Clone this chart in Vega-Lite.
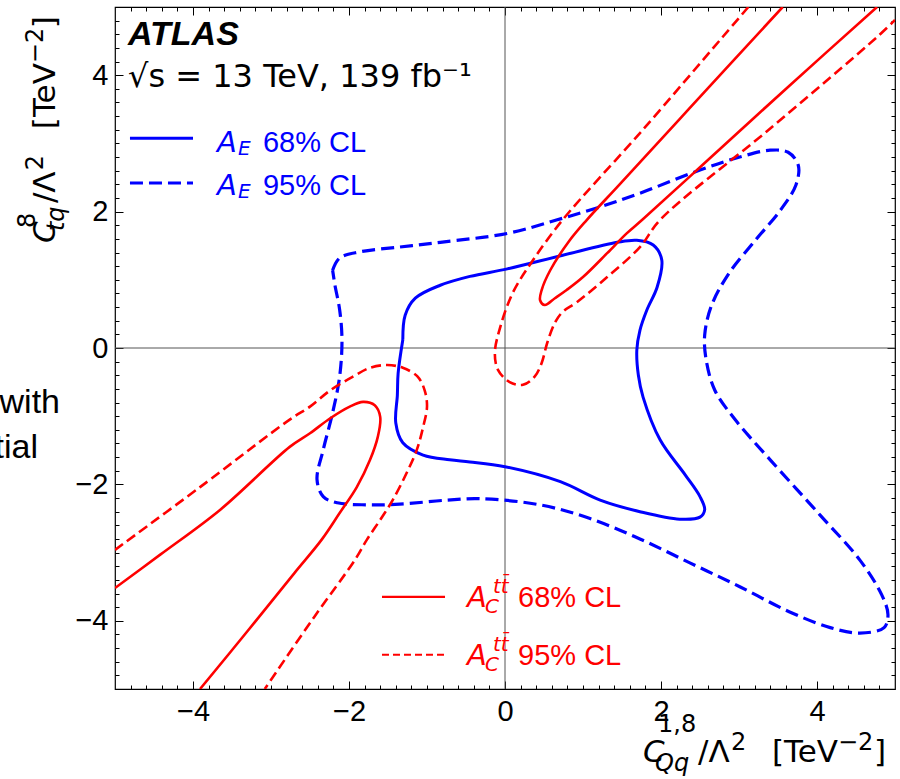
{
  "$schema": "https://vega.github.io/schema/vega-lite/v6.json",
  "width": 780,
  "height": 682,
  "autosize": {"type": "none"},
  "padding": {"left": 115, "top": 7, "right": 5, "bottom": 90},
  "background": "white",
  "config": {"view": {"stroke": "black", "strokeWidth": 1.2}},
  "resolve": {"axis": {"x": "independent", "y": "independent"}},
  "datasets": {
    "cross": [{"v": 0}],
    "contours": [
      {"c": "AE68", "s": 1, "i": 1, "x": -1.31, "y": 0.12},
      {"c": "AE68", "s": 1, "i": 2, "x": -1.28, "y": 0.48},
      {"c": "AE68", "s": 1, "i": 3, "x": -1.15, "y": 0.73},
      {"c": "AE68", "s": 1, "i": 4, "x": -0.83, "y": 0.92},
      {"c": "AE68", "s": 1, "i": 5, "x": -0.45, "y": 1.05},
      {"c": "AE68", "s": 1, "i": 6, "x": 0.03, "y": 1.16},
      {"c": "AE68", "s": 1, "i": 7, "x": 0.74, "y": 1.36},
      {"c": "AE68", "s": 1, "i": 8, "x": 1.44, "y": 1.55},
      {"c": "AE68", "s": 1, "i": 9, "x": 1.69, "y": 1.58},
      {"c": "AE68", "s": 1, "i": 10, "x": 1.9, "y": 1.51},
      {"c": "AE68", "s": 1, "i": 11, "x": 2.01, "y": 1.29},
      {"c": "AE68", "s": 1, "i": 12, "x": 1.95, "y": 0.89},
      {"c": "AE68", "s": 1, "i": 13, "x": 1.82, "y": 0.56},
      {"c": "AE68", "s": 1, "i": 14, "x": 1.73, "y": 0.26},
      {"c": "AE68", "s": 1, "i": 15, "x": 1.69, "y": -0.03},
      {"c": "AE68", "s": 1, "i": 16, "x": 1.71, "y": -0.4},
      {"c": "AE68", "s": 1, "i": 17, "x": 1.77, "y": -0.72},
      {"c": "AE68", "s": 1, "i": 18, "x": 1.99, "y": -1.35},
      {"c": "AE68", "s": 1, "i": 19, "x": 2.31, "y": -1.86},
      {"c": "AE68", "s": 1, "i": 20, "x": 2.5, "y": -2.18},
      {"c": "AE68", "s": 1, "i": 21, "x": 2.56, "y": -2.37},
      {"c": "AE68", "s": 1, "i": 22, "x": 2.5, "y": -2.48},
      {"c": "AE68", "s": 1, "i": 23, "x": 2.24, "y": -2.51},
      {"c": "AE68", "s": 1, "i": 24, "x": 1.73, "y": -2.4},
      {"c": "AE68", "s": 1, "i": 25, "x": 1.22, "y": -2.23},
      {"c": "AE68", "s": 1, "i": 26, "x": 0.71, "y": -1.96},
      {"c": "AE68", "s": 1, "i": 27, "x": 0.0, "y": -1.74},
      {"c": "AE68", "s": 1, "i": 28, "x": -0.45, "y": -1.67},
      {"c": "AE68", "s": 1, "i": 29, "x": -0.71, "y": -1.64},
      {"c": "AE68", "s": 1, "i": 30, "x": -1.05, "y": -1.57},
      {"c": "AE68", "s": 1, "i": 31, "x": -1.31, "y": -1.39},
      {"c": "AE68", "s": 1, "i": 32, "x": -1.4, "y": -1.1},
      {"c": "AE68", "s": 1, "i": 33, "x": -1.38, "y": -0.69},
      {"c": "AE68", "s": 1, "i": 34, "x": -1.37, "y": -0.37},
      {"c": "AE68", "s": 1, "i": 35, "x": -1.31, "y": 0.12},

      {"c": "AE95", "s": 1, "i": 1, "x": -2.21, "y": 1.14},
      {"c": "AE95", "s": 1, "i": 2, "x": -2.12, "y": 1.32},
      {"c": "AE95", "s": 1, "i": 3, "x": -1.86, "y": 1.41},
      {"c": "AE95", "s": 1, "i": 4, "x": -1.35, "y": 1.48},
      {"c": "AE95", "s": 1, "i": 5, "x": -0.83, "y": 1.55},
      {"c": "AE95", "s": 1, "i": 6, "x": 0.03, "y": 1.68},
      {"c": "AE95", "s": 1, "i": 7, "x": 0.67, "y": 1.88},
      {"c": "AE95", "s": 1, "i": 8, "x": 1.22, "y": 2.07},
      {"c": "AE95", "s": 1, "i": 9, "x": 1.73, "y": 2.27},
      {"c": "AE95", "s": 1, "i": 10, "x": 2.5, "y": 2.61},
      {"c": "AE95", "s": 1, "i": 11, "x": 3.01, "y": 2.8},
      {"c": "AE95", "s": 1, "i": 12, "x": 3.4, "y": 2.9},
      {"c": "AE95", "s": 1, "i": 13, "x": 3.63, "y": 2.87},
      {"c": "AE95", "s": 1, "i": 14, "x": 3.76, "y": 2.68},
      {"c": "AE95", "s": 1, "i": 15, "x": 3.73, "y": 2.39},
      {"c": "AE95", "s": 1, "i": 16, "x": 3.53, "y": 2.02},
      {"c": "AE95", "s": 1, "i": 17, "x": 3.21, "y": 1.58},
      {"c": "AE95", "s": 1, "i": 18, "x": 2.88, "y": 1.11},
      {"c": "AE95", "s": 1, "i": 19, "x": 2.65, "y": 0.63},
      {"c": "AE95", "s": 1, "i": 20, "x": 2.56, "y": 0.19},
      {"c": "AE95", "s": 1, "i": 21, "x": 2.58, "y": -0.18},
      {"c": "AE95", "s": 1, "i": 22, "x": 2.69, "y": -0.62},
      {"c": "AE95", "s": 1, "i": 23, "x": 2.95, "y": -1.05},
      {"c": "AE95", "s": 1, "i": 24, "x": 3.4, "y": -1.64},
      {"c": "AE95", "s": 1, "i": 25, "x": 4.04, "y": -2.45},
      {"c": "AE95", "s": 1, "i": 26, "x": 4.55, "y": -3.11},
      {"c": "AE95", "s": 1, "i": 27, "x": 4.83, "y": -3.62},
      {"c": "AE95", "s": 1, "i": 28, "x": 4.91, "y": -3.91},
      {"c": "AE95", "s": 1, "i": 29, "x": 4.86, "y": -4.1},
      {"c": "AE95", "s": 1, "i": 30, "x": 4.55, "y": -4.18},
      {"c": "AE95", "s": 1, "i": 31, "x": 4.17, "y": -4.1},
      {"c": "AE95", "s": 1, "i": 32, "x": 3.65, "y": -3.87},
      {"c": "AE95", "s": 1, "i": 33, "x": 3.01, "y": -3.5},
      {"c": "AE95", "s": 1, "i": 34, "x": 2.37, "y": -3.15},
      {"c": "AE95", "s": 1, "i": 35, "x": 1.73, "y": -2.8},
      {"c": "AE95", "s": 1, "i": 36, "x": 1.09, "y": -2.5},
      {"c": "AE95", "s": 1, "i": 37, "x": 0.45, "y": -2.3},
      {"c": "AE95", "s": 1, "i": 38, "x": -0.32, "y": -2.21},
      {"c": "AE95", "s": 1, "i": 39, "x": -0.74, "y": -2.23},
      {"c": "AE95", "s": 1, "i": 40, "x": -1.35, "y": -2.29},
      {"c": "AE95", "s": 1, "i": 41, "x": -1.77, "y": -2.3},
      {"c": "AE95", "s": 1, "i": 42, "x": -2.15, "y": -2.27},
      {"c": "AE95", "s": 1, "i": 43, "x": -2.33, "y": -2.18},
      {"c": "AE95", "s": 1, "i": 44, "x": -2.41, "y": -1.93},
      {"c": "AE95", "s": 1, "i": 45, "x": -2.33, "y": -1.49},
      {"c": "AE95", "s": 1, "i": 46, "x": -2.21, "y": -0.95},
      {"c": "AE95", "s": 1, "i": 47, "x": -2.12, "y": -0.42},
      {"c": "AE95", "s": 1, "i": 48, "x": -2.09, "y": 0.12},
      {"c": "AE95", "s": 1, "i": 49, "x": -2.12, "y": 0.56},
      {"c": "AE95", "s": 1, "i": 50, "x": -2.18, "y": 0.92},
      {"c": "AE95", "s": 1, "i": 51, "x": -2.21, "y": 1.14},

      {"c": "AC68", "s": 1, "i": 1, "x": 3.56, "y": 5.0},
      {"c": "AC68", "s": 1, "i": 2, "x": 2.37, "y": 3.52},
      {"c": "AC68", "s": 1, "i": 3, "x": 1.47, "y": 2.4},
      {"c": "AC68", "s": 1, "i": 4, "x": 1.05, "y": 1.88},
      {"c": "AC68", "s": 1, "i": 5, "x": 0.83, "y": 1.58},
      {"c": "AC68", "s": 1, "i": 6, "x": 0.58, "y": 1.14},
      {"c": "AC68", "s": 1, "i": 7, "x": 0.47, "y": 0.85},
      {"c": "AC68", "s": 1, "i": 8, "x": 0.45, "y": 0.7},
      {"c": "AC68", "s": 1, "i": 9, "x": 0.51, "y": 0.63},
      {"c": "AC68", "s": 1, "i": 10, "x": 0.64, "y": 0.73},
      {"c": "AC68", "s": 1, "i": 11, "x": 0.79, "y": 0.85},
      {"c": "AC68", "s": 1, "i": 12, "x": 1.0, "y": 1.04},
      {"c": "AC68", "s": 1, "i": 13, "x": 1.31, "y": 1.39},
      {"c": "AC68", "s": 1, "i": 14, "x": 1.56, "y": 1.68},
      {"c": "AC68", "s": 1, "i": 15, "x": 1.76, "y": 1.88},
      {"c": "AC68", "s": 1, "i": 16, "x": 2.5, "y": 2.65},
      {"c": "AC68", "s": 1, "i": 17, "x": 3.65, "y": 3.85},
      {"c": "AC68", "s": 1, "i": 18, "x": 4.77, "y": 5.0},
      {"c": "AC68", "s": 2, "i": 1, "x": -5.0, "y": -3.52},
      {"c": "AC68", "s": 2, "i": 2, "x": -4.42, "y": -3.03},
      {"c": "AC68", "s": 2, "i": 3, "x": -3.65, "y": -2.37},
      {"c": "AC68", "s": 2, "i": 4, "x": -2.76, "y": -1.45},
      {"c": "AC68", "s": 2, "i": 5, "x": -2.5, "y": -1.25},
      {"c": "AC68", "s": 2, "i": 6, "x": -2.24, "y": -1.03},
      {"c": "AC68", "s": 2, "i": 7, "x": -1.99, "y": -0.86},
      {"c": "AC68", "s": 2, "i": 8, "x": -1.82, "y": -0.79},
      {"c": "AC68", "s": 2, "i": 9, "x": -1.67, "y": -0.84},
      {"c": "AC68", "s": 2, "i": 10, "x": -1.6, "y": -1.01},
      {"c": "AC68", "s": 2, "i": 11, "x": -1.63, "y": -1.3},
      {"c": "AC68", "s": 2, "i": 12, "x": -1.73, "y": -1.64},
      {"c": "AC68", "s": 2, "i": 13, "x": -1.9, "y": -2.04},
      {"c": "AC68", "s": 2, "i": 14, "x": -2.12, "y": -2.42},
      {"c": "AC68", "s": 2, "i": 15, "x": -2.35, "y": -2.81},
      {"c": "AC68", "s": 2, "i": 16, "x": -2.7, "y": -3.3},
      {"c": "AC68", "s": 2, "i": 17, "x": -3.3, "y": -4.15},
      {"c": "AC68", "s": 2, "i": 18, "x": -3.91, "y": -5.0},

      {"c": "AC95", "s": 1, "i": 1, "x": 3.12, "y": 5.0},
      {"c": "AC95", "s": 1, "i": 2, "x": 2.79, "y": 4.56},
      {"c": "AC95", "s": 1, "i": 3, "x": 1.76, "y": 3.19},
      {"c": "AC95", "s": 1, "i": 4, "x": 0.74, "y": 1.88},
      {"c": "AC95", "s": 1, "i": 5, "x": 0.36, "y": 1.29},
      {"c": "AC95", "s": 1, "i": 6, "x": 0.1, "y": 0.81},
      {"c": "AC95", "s": 1, "i": 7, "x": -0.06, "y": 0.31},
      {"c": "AC95", "s": 1, "i": 8, "x": -0.13, "y": -0.07},
      {"c": "AC95", "s": 1, "i": 9, "x": -0.09, "y": -0.32},
      {"c": "AC95", "s": 1, "i": 10, "x": 0.06, "y": -0.5},
      {"c": "AC95", "s": 1, "i": 11, "x": 0.23, "y": -0.54},
      {"c": "AC95", "s": 1, "i": 12, "x": 0.38, "y": -0.42},
      {"c": "AC95", "s": 1, "i": 13, "x": 0.47, "y": -0.22},
      {"c": "AC95", "s": 1, "i": 14, "x": 0.54, "y": 0.07},
      {"c": "AC95", "s": 1, "i": 15, "x": 0.64, "y": 0.37},
      {"c": "AC95", "s": 1, "i": 16, "x": 0.74, "y": 0.53},
      {"c": "AC95", "s": 1, "i": 17, "x": 0.92, "y": 0.67},
      {"c": "AC95", "s": 1, "i": 18, "x": 1.31, "y": 1.04},
      {"c": "AC95", "s": 1, "i": 19, "x": 1.73, "y": 1.48},
      {"c": "AC95", "s": 1, "i": 20, "x": 1.99, "y": 1.88},
      {"c": "AC95", "s": 1, "i": 21, "x": 3.37, "y": 3.19},
      {"c": "AC95", "s": 1, "i": 22, "x": 4.77, "y": 4.56},
      {"c": "AC95", "s": 1, "i": 23, "x": 5.0, "y": 4.81},
      {"c": "AC95", "s": 2, "i": 1, "x": -5.0, "y": -2.96},
      {"c": "AC95", "s": 2, "i": 2, "x": -3.91, "y": -2.04},
      {"c": "AC95", "s": 2, "i": 3, "x": -2.76, "y": -1.05},
      {"c": "AC95", "s": 2, "i": 4, "x": -2.5, "y": -0.86},
      {"c": "AC95", "s": 2, "i": 5, "x": -2.24, "y": -0.62},
      {"c": "AC95", "s": 2, "i": 6, "x": -1.95, "y": -0.42},
      {"c": "AC95", "s": 2, "i": 7, "x": -1.73, "y": -0.29},
      {"c": "AC95", "s": 2, "i": 8, "x": -1.51, "y": -0.25},
      {"c": "AC95", "s": 2, "i": 9, "x": -1.31, "y": -0.29},
      {"c": "AC95", "s": 2, "i": 10, "x": -1.12, "y": -0.42},
      {"c": "AC95", "s": 2, "i": 11, "x": -1.03, "y": -0.62},
      {"c": "AC95", "s": 2, "i": 12, "x": -1.0, "y": -0.86},
      {"c": "AC95", "s": 2, "i": 13, "x": -1.05, "y": -1.16},
      {"c": "AC95", "s": 2, "i": 14, "x": -1.13, "y": -1.49},
      {"c": "AC95", "s": 2, "i": 15, "x": -1.26, "y": -1.83},
      {"c": "AC95", "s": 2, "i": 16, "x": -1.44, "y": -2.23},
      {"c": "AC95", "s": 2, "i": 17, "x": -1.6, "y": -2.52},
      {"c": "AC95", "s": 2, "i": 18, "x": -1.77, "y": -2.81},
      {"c": "AC95", "s": 2, "i": 19, "x": -1.92, "y": -3.1},
      {"c": "AC95", "s": 2, "i": 20, "x": -2.45, "y": -3.95},
      {"c": "AC95", "s": 2, "i": 21, "x": -3.08, "y": -5.0}
    ],
    "keys": [
      {"g": "AE", "cl": "68", "x": -4.808, "x2": -4.0, "y": 3.077},
      {"g": "AE", "cl": "95", "x": -4.808, "x2": -4.0, "y": 2.418},
      {"g": "AC", "cl": "68", "x": -1.577, "x2": -0.769, "y": -3.648},
      {"g": "AC", "cl": "95", "x": -1.577, "x2": -0.769, "y": -4.498}
    ],
    "texts": [
      {"k": "atlas", "g": "none", "t": "ATLAS", "x": -4.833, "y": 4.44},
      {"k": "energy", "g": "none", "t": "√s = 13 TeV, 139 fb⁻¹", "x": -4.833, "y": 3.824},
      {"k": "mathA", "g": "AE", "t": "A", "x": -3.692, "y": 2.872},
      {"k": "sub", "g": "AE", "t": "E", "x": -3.423, "y": 2.828},
      {"k": "cl", "g": "AE", "t": "68% CL", "x": -3.103, "y": 2.872},
      {"k": "mathA", "g": "AE", "t": "A", "x": -3.692, "y": 2.242},
      {"k": "sub", "g": "AE", "t": "E", "x": -3.423, "y": 2.198},
      {"k": "cl", "g": "AE", "t": "95% CL", "x": -3.103, "y": 2.242},
      {"k": "mathA", "g": "AC", "t": "A", "x": -0.487, "y": -3.795},
      {"k": "sub", "g": "AC", "t": "tt̄", "x": -0.154, "y": -3.59},
      {"k": "sub", "g": "AC", "t": "C", "x": -0.256, "y": -3.883},
      {"k": "cl", "g": "AC", "t": "68% CL", "x": 0.167, "y": -3.795},
      {"k": "mathA", "g": "AC", "t": "A", "x": -0.487, "y": -4.645},
      {"k": "sub", "g": "AC", "t": "tt̄", "x": -0.154, "y": -4.44},
      {"k": "sub", "g": "AC", "t": "C", "x": -0.256, "y": -4.733},
      {"k": "cl", "g": "AC", "t": "95% CL", "x": 0.167, "y": -4.645},
      {"k": "side", "g": "none", "t": "with", "x": -5.705, "y": -0.952},
      {"k": "side", "g": "none", "t": "tial", "x": -5.987, "y": -1.612},
      {"k": "xtI", "g": "none", "t": "C", "x": 1.769, "y": -6.066},
      {"k": "xtS", "g": "none", "t": "1,8", "x": 1.962, "y": -5.626},
      {"k": "xtSI", "g": "none", "t": "Qq", "x": 1.923, "y": -6.198},
      {"k": "xtR", "g": "none", "t": "/Λ", "x": 2.474, "y": -6.066},
      {"k": "xtS", "g": "none", "t": "2", "x": 2.897, "y": -5.89},
      {"k": "xtR", "g": "none", "t": "[TeV", "x": 3.423, "y": -6.066},
      {"k": "xtS", "g": "none", "t": "−2", "x": 4.269, "y": -5.89},
      {"k": "xtR", "g": "none", "t": "]", "x": 4.731, "y": -6.066},
      {"k": "ytI", "g": "none", "t": "C", "x": -5.769, "y": 1.538},
      {"k": "ytS", "g": "none", "t": "8", "x": -6.026, "y": 1.758},
      {"k": "ytSI", "g": "none", "t": "tq", "x": -5.654, "y": 1.714},
      {"k": "ytR", "g": "none", "t": "/Λ", "x": -5.769, "y": 2.125},
      {"k": "ytS", "g": "none", "t": "2", "x": -5.923, "y": 2.608},
      {"k": "ytR", "g": "none", "t": "[TeV", "x": -5.769, "y": 3.209},
      {"k": "ytS", "g": "none", "t": "−2", "x": -5.923, "y": 4.176},
      {"k": "ytR", "g": "none", "t": "]", "x": -5.769, "y": 4.689}
    ]
  },
  "layer": [
    {
      "data": {"name": "cross"},
      "mark": {"type": "rule", "color": "#555555", "strokeWidth": 1},
      "encoding": {
        "x": {"field": "v", "type": "quantitative", "scale": {"domain": [-5, 5], "nice": false, "zero": false},
          "axis": {"orient": "top", "values": [-4.8,-4.6,-4.4,-4.2,-3.8,-3.6,-3.4,-3.2,-3,-2.8,-2.6,-2.4,-2.2,-1.8,-1.6,-1.4,-1.2,-1,-0.8,-0.6,-0.4,-0.2,0.2,0.4,0.6,0.8,1,1.2,1.4,1.6,1.8,2.2,2.4,2.6,2.8,3,3.2,3.4,3.6,3.8,4.2,4.4,4.6,4.8], "ticks": true, "tickSize": -4, "tickColor": "black", "tickWidth": 1, "labels": false, "domain": false, "grid": false, "title": null}}
      }
    },
    {
      "data": {"name": "cross"},
      "mark": {"type": "rule", "color": "#555555", "strokeWidth": 1},
      "encoding": {
        "y": {"field": "v", "type": "quantitative", "scale": {"domain": [-5, 5], "nice": false, "zero": false},
          "axis": {"orient": "right", "values": [-4.8,-4.6,-4.4,-4.2,-3.8,-3.6,-3.4,-3.2,-3,-2.8,-2.6,-2.4,-2.2,-1.8,-1.6,-1.4,-1.2,-1,-0.8,-0.6,-0.4,-0.2,0.2,0.4,0.6,0.8,1,1.2,1.4,1.6,1.8,2.2,2.4,2.6,2.8,3,3.2,3.4,3.6,3.8,4.2,4.4,4.6,4.8], "ticks": true, "tickSize": -4, "tickColor": "black", "tickWidth": 1, "labels": false, "domain": false, "grid": false, "title": null}}
      }
    },
    {
      "data": {"name": "contours"},
      "transform": [{"filter": "datum.c === 'AE68'"}],
      "mark": {"type": "line", "color": "#0000ff", "strokeWidth": 3, "interpolate": "catmull-rom", "clip": true},
      "encoding": {
        "x": {"field": "x", "type": "quantitative", "scale": {"domain": [-5, 5], "nice": false, "zero": false},
          "axis": {"orient": "bottom", "values": [-4, -2, 0, 2, 4], "ticks": false, "labelFont": "Liberation Sans", "labelFontSize": 29, "labelColor": "black", "labelPadding": 8, "labelFlush": false, "domain": false, "grid": false, "title": null}},
        "y": {"field": "y", "type": "quantitative", "scale": {"domain": [-5, 5], "nice": false, "zero": false},
          "axis": {"orient": "left", "values": [-4, -2, 0, 2, 4], "ticks": false, "labelFont": "Liberation Sans", "labelFontSize": 29, "labelColor": "black", "labelPadding": 7, "labelFlush": false, "domain": false, "grid": false, "title": null}},
        "detail": {"field": "s", "type": "nominal"},
        "order": {"field": "i", "type": "quantitative"}
      }
    },
    {
      "data": {"name": "contours"},
      "transform": [{"filter": "datum.c === 'AE95'"}],
      "mark": {"type": "line", "color": "#0000ff", "strokeWidth": 3.2, "strokeDash": [13, 6], "interpolate": "catmull-rom", "clip": true},
      "encoding": {
        "x": {"field": "x", "type": "quantitative", "scale": {"domain": [-5, 5], "nice": false, "zero": false},
          "axis": {"orient": "bottom", "values": [-4, -2, 0, 2, 4], "ticks": true, "tickSize": -8, "tickColor": "black", "tickWidth": 1, "labels": false, "domain": false, "grid": false, "title": null}},
        "y": {"field": "y", "type": "quantitative", "scale": {"domain": [-5, 5], "nice": false, "zero": false},
          "axis": {"orient": "left", "values": [-4, -2, 0, 2, 4], "ticks": true, "tickSize": -8, "tickColor": "black", "tickWidth": 1, "labels": false, "domain": false, "grid": false, "title": null}},
        "detail": {"field": "s", "type": "nominal"},
        "order": {"field": "i", "type": "quantitative"}
      }
    },
    {
      "data": {"name": "contours"},
      "transform": [{"filter": "datum.c === 'AC68'"}],
      "mark": {"type": "line", "color": "#ff0000", "strokeWidth": 2.6, "interpolate": "catmull-rom", "clip": true},
      "encoding": {
        "x": {"field": "x", "type": "quantitative", "scale": {"domain": [-5, 5], "nice": false, "zero": false},
          "axis": {"orient": "bottom", "values": [-4.8,-4.6,-4.4,-4.2,-3.8,-3.6,-3.4,-3.2,-3,-2.8,-2.6,-2.4,-2.2,-1.8,-1.6,-1.4,-1.2,-1,-0.8,-0.6,-0.4,-0.2,0.2,0.4,0.6,0.8,1,1.2,1.4,1.6,1.8,2.2,2.4,2.6,2.8,3,3.2,3.4,3.6,3.8,4.2,4.4,4.6,4.8], "ticks": true, "tickSize": -4, "tickColor": "black", "tickWidth": 1, "labels": false, "domain": false, "grid": false, "title": null}},
        "y": {"field": "y", "type": "quantitative", "scale": {"domain": [-5, 5], "nice": false, "zero": false},
          "axis": {"orient": "left", "values": [-4.8,-4.6,-4.4,-4.2,-3.8,-3.6,-3.4,-3.2,-3,-2.8,-2.6,-2.4,-2.2,-1.8,-1.6,-1.4,-1.2,-1,-0.8,-0.6,-0.4,-0.2,0.2,0.4,0.6,0.8,1,1.2,1.4,1.6,1.8,2.2,2.4,2.6,2.8,3,3.2,3.4,3.6,3.8,4.2,4.4,4.6,4.8], "ticks": true, "tickSize": -4, "tickColor": "black", "tickWidth": 1, "labels": false, "domain": false, "grid": false, "title": null}},
        "detail": {"field": "s", "type": "nominal"},
        "order": {"field": "i", "type": "quantitative"}
      }
    },
    {
      "data": {"name": "contours"},
      "transform": [{"filter": "datum.c === 'AC95'"}],
      "mark": {"type": "line", "color": "#ff0000", "strokeWidth": 2.6, "strokeDash": [10, 5], "interpolate": "catmull-rom", "clip": true},
      "encoding": {
        "x": {"field": "x", "type": "quantitative", "scale": {"domain": [-5, 5], "nice": false, "zero": false},
          "axis": {"orient": "top", "values": [-4, -2, 0, 2, 4], "ticks": true, "tickSize": -8, "tickColor": "black", "tickWidth": 1, "labels": false, "domain": false, "grid": false, "title": null}},
        "y": {"field": "y", "type": "quantitative", "scale": {"domain": [-5, 5], "nice": false, "zero": false},
          "axis": {"orient": "right", "values": [-4, -2, 0, 2, 4], "ticks": true, "tickSize": -8, "tickColor": "black", "tickWidth": 1, "labels": false, "domain": false, "grid": false, "title": null}},
        "detail": {"field": "s", "type": "nominal"},
        "order": {"field": "i", "type": "quantitative"}
      }
    },
    {
      "data": {"name": "keys"},
      "transform": [{"filter": "datum.g === 'AE' && datum.cl === '68'"}],
      "mark": {"type": "rule", "color": "#0000ff", "strokeWidth": 3},
      "encoding": {
        "x": {"field": "x", "type": "quantitative", "axis": null},
        "x2": {"field": "x2"},
        "y": {"field": "y", "type": "quantitative", "axis": null}
      }
    },
    {
      "data": {"name": "keys"},
      "transform": [{"filter": "datum.g === 'AE' && datum.cl === '95'"}],
      "mark": {"type": "rule", "color": "#0000ff", "strokeWidth": 3, "strokeDash": [13, 6]},
      "encoding": {
        "x": {"field": "x", "type": "quantitative", "axis": null},
        "x2": {"field": "x2"},
        "y": {"field": "y", "type": "quantitative", "axis": null}
      }
    },
    {
      "data": {"name": "keys"},
      "transform": [{"filter": "datum.g === 'AC' && datum.cl === '68'"}],
      "mark": {"type": "rule", "color": "#ff0000", "strokeWidth": 2.2},
      "encoding": {
        "x": {"field": "x", "type": "quantitative", "axis": null},
        "x2": {"field": "x2"},
        "y": {"field": "y", "type": "quantitative", "axis": null}
      }
    },
    {
      "data": {"name": "keys"},
      "transform": [{"filter": "datum.g === 'AC' && datum.cl === '95'"}],
      "mark": {"type": "rule", "color": "#ff0000", "strokeWidth": 2.2, "strokeDash": [7, 4]},
      "encoding": {
        "x": {"field": "x", "type": "quantitative", "axis": null},
        "x2": {"field": "x2"},
        "y": {"field": "y", "type": "quantitative", "axis": null}
      }
    },
    {
      "data": {"name": "texts"},
      "transform": [{"filter": "datum.k === 'atlas'"}],
      "mark": {"type": "text", "font": "Liberation Sans", "fontSize": 34, "fontWeight": "bold", "fontStyle": "italic", "align": "left", "baseline": "alphabetic", "color": "black"},
      "encoding": {"x": {"field": "x", "type": "quantitative", "axis": null}, "y": {"field": "y", "type": "quantitative", "axis": null}, "text": {"field": "t"}}
    },
    {
      "data": {"name": "texts"},
      "transform": [{"filter": "datum.k === 'energy'"}],
      "mark": {"type": "text", "font": "DejaVu Sans", "fontSize": 32, "align": "left", "baseline": "alphabetic", "color": "black"},
      "encoding": {"x": {"field": "x", "type": "quantitative", "axis": null}, "y": {"field": "y", "type": "quantitative", "axis": null}, "text": {"field": "t"}}
    },
    {
      "data": {"name": "texts"},
      "transform": [{"filter": "datum.k === 'mathA'"}],
      "mark": {"type": "text", "font": "DejaVu Sans", "fontSize": 29, "fontStyle": "italic", "align": "left", "baseline": "alphabetic"},
      "encoding": {"x": {"field": "x", "type": "quantitative", "axis": null}, "y": {"field": "y", "type": "quantitative", "axis": null}, "text": {"field": "t"},
        "color": {"field": "g", "type": "nominal", "scale": {"domain": ["AE", "AC", "none"], "range": ["#0000ff", "#ff0000", "#000000"]}, "legend": null}}
    },
    {
      "data": {"name": "texts"},
      "transform": [{"filter": "datum.k === 'sub'"}],
      "mark": {"type": "text", "font": "DejaVu Sans", "fontSize": 20, "fontStyle": "italic", "align": "left", "baseline": "alphabetic"},
      "encoding": {"x": {"field": "x", "type": "quantitative", "axis": null}, "y": {"field": "y", "type": "quantitative", "axis": null}, "text": {"field": "t"},
        "color": {"field": "g", "type": "nominal", "scale": {"domain": ["AE", "AC", "none"], "range": ["#0000ff", "#ff0000", "#000000"]}, "legend": null}}
    },
    {
      "data": {"name": "texts"},
      "transform": [{"filter": "datum.k === 'cl'"}],
      "mark": {"type": "text", "font": "Liberation Sans", "fontSize": 29, "align": "left", "baseline": "alphabetic"},
      "encoding": {"x": {"field": "x", "type": "quantitative", "axis": null}, "y": {"field": "y", "type": "quantitative", "axis": null}, "text": {"field": "t"},
        "color": {"field": "g", "type": "nominal", "scale": {"domain": ["AE", "AC", "none"], "range": ["#0000ff", "#ff0000", "#000000"]}, "legend": null}}
    },
    {
      "data": {"name": "texts"},
      "transform": [{"filter": "datum.k === 'side'"}],
      "mark": {"type": "text", "font": "Liberation Sans", "fontSize": 34, "align": "right", "baseline": "alphabetic", "color": "black"},
      "encoding": {"x": {"field": "x", "type": "quantitative", "axis": null}, "y": {"field": "y", "type": "quantitative", "axis": null}, "text": {"field": "t"}}
    },
    {
      "data": {"name": "texts"},
      "transform": [{"filter": "datum.k === 'xtI'"}],
      "mark": {"type": "text", "font": "DejaVu Sans", "fontSize": 31, "fontStyle": "italic", "align": "left", "baseline": "alphabetic", "color": "black"},
      "encoding": {"x": {"field": "x", "type": "quantitative", "axis": null}, "y": {"field": "y", "type": "quantitative", "axis": null}, "text": {"field": "t"}}
    },
    {
      "data": {"name": "texts"},
      "transform": [{"filter": "datum.k === 'xtR'"}],
      "mark": {"type": "text", "font": "DejaVu Sans", "fontSize": 31, "align": "left", "baseline": "alphabetic", "color": "black"},
      "encoding": {"x": {"field": "x", "type": "quantitative", "axis": null}, "y": {"field": "y", "type": "quantitative", "axis": null}, "text": {"field": "t"}}
    },
    {
      "data": {"name": "texts"},
      "transform": [{"filter": "datum.k === 'xtS'"}],
      "mark": {"type": "text", "font": "DejaVu Sans", "fontSize": 24, "align": "left", "baseline": "alphabetic", "color": "black"},
      "encoding": {"x": {"field": "x", "type": "quantitative", "axis": null}, "y": {"field": "y", "type": "quantitative", "axis": null}, "text": {"field": "t"}}
    },
    {
      "data": {"name": "texts"},
      "transform": [{"filter": "datum.k === 'xtSI'"}],
      "mark": {"type": "text", "font": "DejaVu Sans", "fontSize": 24, "fontStyle": "italic", "align": "left", "baseline": "alphabetic", "color": "black"},
      "encoding": {"x": {"field": "x", "type": "quantitative", "axis": null}, "y": {"field": "y", "type": "quantitative", "axis": null}, "text": {"field": "t"}}
    },
    {
      "data": {"name": "texts"},
      "transform": [{"filter": "datum.k === 'ytI'"}],
      "mark": {"type": "text", "font": "DejaVu Sans", "fontSize": 31, "fontStyle": "italic", "align": "left", "baseline": "alphabetic", "angle": 270, "color": "black"},
      "encoding": {"x": {"field": "x", "type": "quantitative", "axis": null}, "y": {"field": "y", "type": "quantitative", "axis": null}, "text": {"field": "t"}}
    },
    {
      "data": {"name": "texts"},
      "transform": [{"filter": "datum.k === 'ytR'"}],
      "mark": {"type": "text", "font": "DejaVu Sans", "fontSize": 31, "align": "left", "baseline": "alphabetic", "angle": 270, "color": "black"},
      "encoding": {"x": {"field": "x", "type": "quantitative", "axis": null}, "y": {"field": "y", "type": "quantitative", "axis": null}, "text": {"field": "t"}}
    },
    {
      "data": {"name": "texts"},
      "transform": [{"filter": "datum.k === 'ytS'"}],
      "mark": {"type": "text", "font": "DejaVu Sans", "fontSize": 24, "align": "left", "baseline": "alphabetic", "angle": 270, "color": "black"},
      "encoding": {"x": {"field": "x", "type": "quantitative", "axis": null}, "y": {"field": "y", "type": "quantitative", "axis": null}, "text": {"field": "t"}}
    },
    {
      "data": {"name": "texts"},
      "transform": [{"filter": "datum.k === 'ytSI'"}],
      "mark": {"type": "text", "font": "DejaVu Sans", "fontSize": 24, "fontStyle": "italic", "align": "left", "baseline": "alphabetic", "angle": 270, "color": "black"},
      "encoding": {"x": {"field": "x", "type": "quantitative", "axis": null}, "y": {"field": "y", "type": "quantitative", "axis": null}, "text": {"field": "t"}}
    }
  ]
}
